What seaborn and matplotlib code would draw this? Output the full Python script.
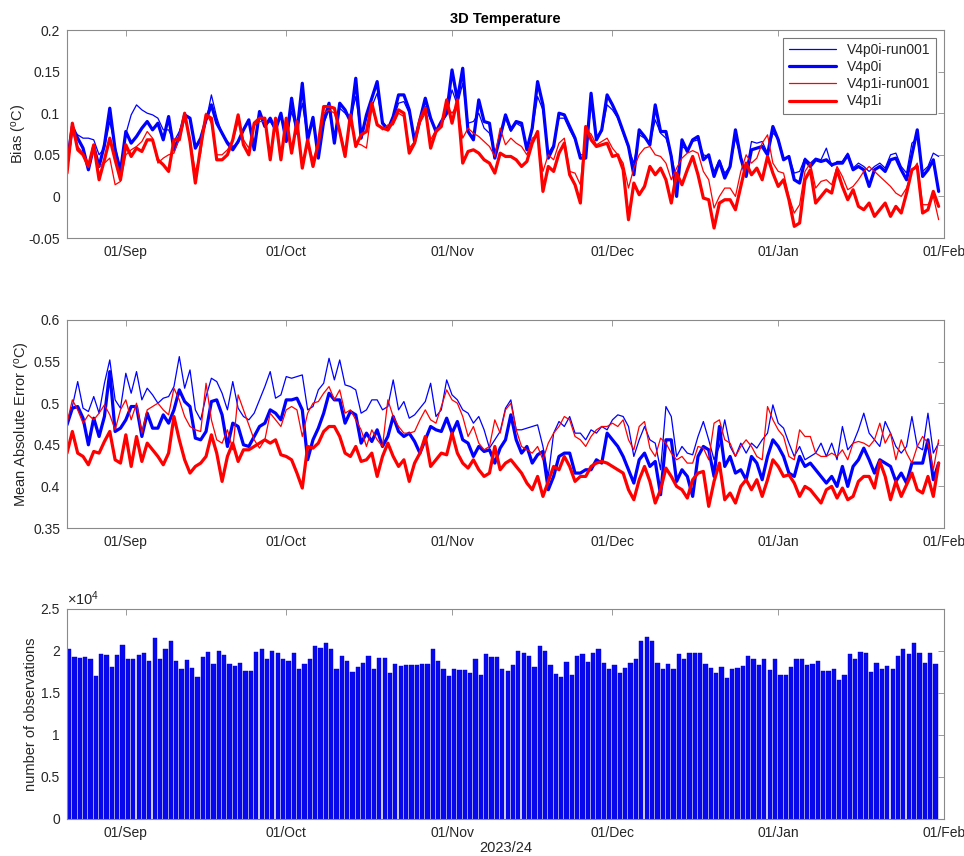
import numpy as np
import pandas as pd
import matplotlib
matplotlib.use("Agg")
import matplotlib.pyplot as plt
import matplotlib.dates as mdates
from matplotlib.lines import Line2D
from matplotlib.ticker import FuncFormatter
import seaborn as sns

# ---------------- data (daily, starting 21 Aug 2023) ----------------
start_date = "2023-08-21"
series_names = ["V4p0i-run001", "V4p0i", "V4p1i-run001", "V4p1i"]

bias_v4p0i_run001 = [
    0.045, 0.080, 0.074, 0.070, 0.070, 0.068, 0.050, 0.058, 0.090, 0.060, 0.032, 0.075, 0.098, 0.110,
    0.104, 0.100, 0.098, 0.094, 0.080, 0.080, 0.066, 0.078, 0.096, 0.094, 0.058, 0.066, 0.090, 0.122,
    0.095, 0.075, 0.066, 0.060, 0.064, 0.080, 0.090, 0.062, 0.098, 0.086, 0.090, 0.080, 0.098, 0.070,
    0.102, 0.078, 0.112, 0.070, 0.090, 0.052, 0.088, 0.104, 0.068, 0.106, 0.100, 0.092, 0.120, 0.074,
    0.094, 0.108, 0.124, 0.090, 0.082, 0.092, 0.112, 0.114, 0.100, 0.070, 0.090, 0.108, 0.092, 0.080,
    0.088, 0.098, 0.128, 0.110, 0.136, 0.088, 0.090, 0.100, 0.082, 0.076, 0.052, 0.070, 0.094,
    0.078, 0.088, 0.084, 0.060, 0.080, 0.120, 0.104, 0.052, 0.062, 0.094, 0.094, 0.080, 0.068, 0.050,
    0.050, 0.112, 0.070, 0.078, 0.110, 0.104, 0.094, 0.076, 0.058, 0.040, 0.074, 0.070, 0.064, 0.092,
    0.076, 0.070, 0.050, 0.020, 0.060, 0.056, 0.066, 0.068, 0.050, 0.048, 0.030, 0.044, 0.028,
    0.036, 0.070, 0.048, 0.030, 0.066, 0.064, 0.066, 0.052, 0.076, 0.070, 0.046, 0.048, 0.028, 0.030,
    0.046, 0.040, 0.046, 0.044, 0.058, 0.036, 0.042, 0.042, 0.052, 0.034, 0.040, 0.036, 0.030, 0.036,
    0.040, 0.034, 0.050, 0.052, 0.036, 0.028, 0.064, 0.070, 0.030, 0.036, 0.052, 0.048]
bias_v4p0i = [
    0.040, 0.084, 0.070, 0.058, 0.032, 0.060, 0.036, 0.062, 0.106, 0.056, 0.030, 0.078, 0.064, 0.072,
    0.082, 0.090, 0.080, 0.088, 0.068, 0.096, 0.056, 0.072, 0.098, 0.094, 0.058, 0.070, 0.092, 0.110,
    0.088, 0.076, 0.064, 0.056, 0.066, 0.080, 0.092, 0.056, 0.102, 0.084, 0.094, 0.080, 0.100, 0.066,
    0.118, 0.076, 0.136, 0.068, 0.095, 0.046, 0.090, 0.112, 0.064, 0.112, 0.104, 0.090, 0.142, 0.070,
    0.098, 0.118, 0.138, 0.088, 0.080, 0.096, 0.122, 0.122, 0.104, 0.066, 0.092, 0.118, 0.094, 0.078,
    0.090, 0.100, 0.152, 0.116, 0.154, 0.078, 0.068, 0.116, 0.090, 0.088, 0.046, 0.072, 0.098,
    0.080, 0.090, 0.088, 0.056, 0.082, 0.138, 0.110, 0.046, 0.060, 0.100, 0.098, 0.084, 0.070, 0.046,
    0.046, 0.124, 0.068, 0.080, 0.122, 0.110, 0.096, 0.078, 0.060, 0.026, 0.080, 0.072, 0.062, 0.110,
    0.078, 0.078, 0.048, 0.000, 0.068, 0.054, 0.068, 0.072, 0.044, 0.050, 0.024, 0.042, 0.022,
    0.036, 0.080, 0.046, 0.024, 0.056, 0.058, 0.060, 0.050, 0.084, 0.068, 0.044, 0.048, 0.020, 0.016,
    0.044, 0.036, 0.044, 0.042, 0.044, 0.038, 0.040, 0.040, 0.050, 0.032, 0.036, 0.032, 0.012, 0.032,
    0.036, 0.030, 0.044, 0.046, 0.032, 0.020, 0.050, 0.080, 0.024, 0.032, 0.044, 0.006]
bias_v4p1i_run001 = [
    0.030, 0.078, 0.060, 0.052, 0.040, 0.054, 0.036, 0.040, 0.046, 0.014, 0.018, 0.050, 0.056, 0.060,
    0.066, 0.078, 0.070, 0.040, 0.046, 0.050, 0.052, 0.070, 0.094, 0.070, 0.030, 0.052, 0.100, 0.088,
    0.050, 0.050, 0.056, 0.066, 0.090, 0.068, 0.058, 0.085, 0.090, 0.090, 0.050, 0.090, 0.050, 0.090,
    0.056, 0.086, 0.040, 0.066, 0.044, 0.062, 0.100, 0.104, 0.100, 0.080, 0.054, 0.092, 0.064, 0.062,
    0.058, 0.106, 0.088, 0.080, 0.086, 0.086, 0.100, 0.096, 0.058, 0.066, 0.088, 0.100, 0.068, 0.080,
    0.084, 0.108, 0.100, 0.110, 0.070, 0.082, 0.076, 0.072, 0.066, 0.060, 0.048, 0.082, 0.062,
    0.070, 0.064, 0.060, 0.050, 0.070, 0.074, 0.030, 0.050, 0.044, 0.064, 0.070, 0.030, 0.028, 0.014,
    0.080, 0.075, 0.062, 0.066, 0.070, 0.058, 0.050, 0.040, 0.010, 0.034, 0.050, 0.058, 0.060, 0.050,
    0.048, 0.040, 0.020, 0.034, 0.046, 0.052, 0.055, 0.052, 0.030, 0.020, -0.014, 0.000, 0.010,
    0.010, 0.000, 0.030, 0.050, 0.040, 0.046, 0.064, 0.074, 0.040, 0.030, 0.028, 0.000, -0.020, -0.010,
    0.030, 0.040, 0.010, 0.018, 0.020, 0.014, 0.036, 0.024, 0.008, 0.012, 0.020, 0.030, 0.036, 0.030,
    0.024, 0.018, 0.012, 0.004, 0.000, 0.010, 0.030, 0.040, -0.010, -0.010, 0.000, -0.028]
bias_v4p1i = [
    0.028, 0.088, 0.056, 0.050, 0.036, 0.062, 0.020, 0.044, 0.070, 0.044, 0.020, 0.062, 0.048, 0.058,
    0.054, 0.068, 0.068, 0.044, 0.038, 0.030, 0.068, 0.068, 0.100, 0.066, 0.016, 0.060, 0.098, 0.094,
    0.044, 0.044, 0.050, 0.068, 0.098, 0.062, 0.050, 0.088, 0.094, 0.094, 0.044, 0.094, 0.044, 0.094,
    0.052, 0.090, 0.034, 0.068, 0.036, 0.064, 0.108, 0.108, 0.106, 0.078, 0.048, 0.098, 0.060, 0.074,
    0.078, 0.112, 0.086, 0.082, 0.080, 0.090, 0.104, 0.100, 0.052, 0.064, 0.092, 0.106, 0.058, 0.078,
    0.084, 0.116, 0.088, 0.116, 0.040, 0.054, 0.056, 0.052, 0.044, 0.040, 0.028, 0.052, 0.048,
    0.048, 0.044, 0.036, 0.042, 0.064, 0.078, 0.006, 0.036, 0.030, 0.052, 0.064, 0.026, 0.014, -0.008,
    0.084, 0.068, 0.060, 0.062, 0.064, 0.048, 0.050, 0.032, -0.028, 0.016, 0.002, 0.012, 0.036, 0.026,
    0.034, 0.020, -0.008, 0.028, 0.014, 0.032, 0.048, 0.026, -0.002, -0.004, -0.038, -0.008, -0.004,
    -0.004, -0.016, 0.012, 0.040, 0.026, 0.034, 0.020, 0.048, 0.028, 0.012, 0.020, -0.004, -0.036, -0.032,
    0.020, 0.032, -0.008, 0.000, 0.008, 0.004, 0.032, 0.012, -0.004, 0.008, -0.012, -0.016, -0.008, -0.024,
    -0.016, -0.008, -0.024, -0.012, -0.020, 0.004, 0.032, 0.036, -0.020, -0.016, 0.006, -0.012]

mae_v4p0i_run001 = [
    0.476, 0.496, 0.526, 0.494, 0.490, 0.508, 0.488, 0.524, 0.552, 0.504, 0.494, 0.536, 0.512, 0.538,
    0.504, 0.518, 0.510, 0.500, 0.506, 0.508, 0.520, 0.556, 0.518, 0.540, 0.492, 0.480, 0.508, 0.530,
    0.526, 0.512, 0.492, 0.526, 0.494, 0.484, 0.480, 0.488, 0.504, 0.520, 0.538, 0.506, 0.510, 0.532,
    0.530, 0.532, 0.534, 0.492, 0.496, 0.516, 0.524, 0.554, 0.528, 0.552, 0.522, 0.520, 0.516, 0.488,
    0.492, 0.504, 0.504, 0.492, 0.496, 0.528, 0.492, 0.502, 0.482, 0.486, 0.494, 0.502, 0.524, 0.484,
    0.492, 0.528, 0.510, 0.504, 0.492, 0.488, 0.476, 0.484, 0.468, 0.446, 0.456, 0.466, 0.494, 0.504,
    0.468, 0.468, 0.470, 0.472, 0.474, 0.448, 0.412, 0.464, 0.478, 0.472, 0.484, 0.464, 0.464, 0.456,
    0.468, 0.464, 0.472, 0.468, 0.480, 0.486, 0.484, 0.472, 0.436, 0.456,
    0.472, 0.456, 0.452, 0.420, 0.496, 0.484, 0.436, 0.448, 0.440, 0.438, 0.460, 0.478, 0.456, 0.432,
    0.448, 0.480, 0.448, 0.436, 0.452, 0.440, 0.452, 0.446, 0.456, 0.464, 0.498, 0.476, 0.470, 0.452,
    0.436, 0.448, 0.432, 0.436, 0.440, 0.452, 0.436, 0.452, 0.432, 0.472, 0.444, 0.452, 0.468, 0.488,
    0.464, 0.456, 0.448, 0.478, 0.464, 0.448, 0.440, 0.448, 0.484, 0.448, 0.444, 0.488, 0.440, 0.452]
mae_v4p0i = [
    0.474, 0.494, 0.496, 0.482, 0.450, 0.482, 0.460, 0.484, 0.538, 0.466, 0.470, 0.480, 0.496, 0.496,
    0.460, 0.488, 0.470, 0.470, 0.486, 0.476, 0.492, 0.516, 0.502, 0.496, 0.458, 0.456, 0.466, 0.502,
    0.504, 0.486, 0.448, 0.476, 0.472, 0.450, 0.448, 0.460, 0.472, 0.476, 0.492, 0.488, 0.480, 0.504,
    0.504, 0.506, 0.492, 0.432, 0.456, 0.470, 0.488, 0.512, 0.504, 0.504, 0.476, 0.490, 0.486, 0.452,
    0.464, 0.454, 0.468, 0.448, 0.460, 0.484, 0.466, 0.460, 0.464, 0.454, 0.440, 0.456, 0.472, 0.468,
    0.466, 0.482, 0.464, 0.478, 0.456, 0.452, 0.436, 0.448, 0.442, 0.444, 0.428, 0.446, 0.456, 0.486,
    0.456, 0.440, 0.448, 0.428, 0.438, 0.442, 0.396, 0.412, 0.436, 0.440, 0.440, 0.416, 0.416, 0.420,
    0.420, 0.432, 0.428, 0.464, 0.456, 0.448, 0.436, 0.420, 0.404, 0.432,
    0.440, 0.424, 0.430, 0.390, 0.456, 0.456, 0.406, 0.420, 0.412, 0.388, 0.436, 0.448, 0.444, 0.412,
    0.472, 0.424, 0.436, 0.416, 0.420, 0.408, 0.436, 0.428, 0.408, 0.436, 0.456, 0.448, 0.436, 0.416,
    0.412, 0.436, 0.424, 0.428, 0.420, 0.412, 0.404, 0.412, 0.400, 0.424, 0.400, 0.424, 0.432, 0.446,
    0.432, 0.416, 0.432, 0.428, 0.424, 0.406, 0.416, 0.404, 0.428, 0.428, 0.428, 0.456, 0.408, 0.428]
mae_v4p1i_run001 = [
    0.476, 0.504, 0.492, 0.476, 0.486, 0.480, 0.488, 0.498, 0.486, 0.468, 0.492, 0.504, 0.480, 0.500,
    0.464, 0.492, 0.496, 0.500, 0.492, 0.486, 0.518, 0.504, 0.484, 0.472, 0.468, 0.466, 0.524, 0.480,
    0.456, 0.452, 0.468, 0.444, 0.510, 0.492, 0.474, 0.456, 0.446, 0.456, 0.488, 0.480, 0.472, 0.492,
    0.496, 0.492, 0.460, 0.488, 0.500, 0.502, 0.512, 0.520, 0.504, 0.516, 0.488, 0.492, 0.480, 0.468,
    0.448, 0.468, 0.456, 0.448, 0.504, 0.484, 0.472, 0.464, 0.464, 0.466, 0.480, 0.492, 0.480, 0.476,
    0.496, 0.516, 0.504, 0.500, 0.484, 0.460, 0.472, 0.452, 0.444, 0.448, 0.480, 0.464, 0.492, 0.500,
    0.468, 0.448, 0.444, 0.440, 0.448, 0.432, 0.452, 0.464, 0.472, 0.484, 0.480, 0.460, 0.456, 0.448,
    0.460, 0.468, 0.472, 0.472, 0.476, 0.472, 0.480, 0.456, 0.444, 0.472,
    0.478, 0.446, 0.436, 0.458, 0.452, 0.440, 0.432, 0.436, 0.428, 0.428, 0.448, 0.446, 0.432, 0.476,
    0.480, 0.456, 0.452, 0.436, 0.448, 0.456, 0.448, 0.436, 0.432, 0.496, 0.480, 0.468, 0.460, 0.436,
    0.432, 0.468, 0.460, 0.460, 0.440, 0.436, 0.436, 0.440, 0.436, 0.444, 0.432, 0.452, 0.454, 0.452,
    0.448, 0.456, 0.476, 0.452, 0.464, 0.432, 0.456, 0.440, 0.428, 0.448, 0.460, 0.452, 0.420, 0.456]
mae_v4p1i = [
    0.440, 0.466, 0.440, 0.436, 0.426, 0.442, 0.440, 0.454, 0.466, 0.432, 0.428, 0.462, 0.424, 0.460,
    0.430, 0.452, 0.444, 0.436, 0.426, 0.440, 0.484, 0.456, 0.432, 0.416, 0.424, 0.428, 0.436, 0.462,
    0.440, 0.406, 0.436, 0.452, 0.430, 0.444, 0.444, 0.448, 0.452, 0.456, 0.452, 0.456, 0.438, 0.436,
    0.432, 0.416, 0.398, 0.448, 0.446, 0.452, 0.466, 0.472, 0.472, 0.460, 0.440, 0.436, 0.448, 0.430,
    0.432, 0.440, 0.412, 0.436, 0.452, 0.436, 0.424, 0.432, 0.406, 0.428, 0.440, 0.460, 0.424, 0.432,
    0.440, 0.438, 0.464, 0.440, 0.428, 0.422, 0.432, 0.420, 0.412, 0.416, 0.448, 0.420, 0.428, 0.432,
    0.424, 0.416, 0.404, 0.396, 0.412, 0.388, 0.406, 0.424, 0.420, 0.436, 0.424, 0.406, 0.412, 0.412,
    0.424, 0.428, 0.430, 0.428, 0.424, 0.420, 0.416, 0.396, 0.384, 0.408,
    0.424, 0.406, 0.380, 0.396, 0.422, 0.412, 0.400, 0.396, 0.386, 0.408, 0.416, 0.418, 0.376, 0.406,
    0.428, 0.384, 0.392, 0.380, 0.400, 0.408, 0.396, 0.408, 0.388, 0.408, 0.432, 0.424, 0.412, 0.414,
    0.404, 0.388, 0.400, 0.396, 0.388, 0.380, 0.396, 0.400, 0.386, 0.398, 0.384, 0.388, 0.406, 0.412,
    0.412, 0.398, 0.430, 0.412, 0.384, 0.406, 0.388, 0.402, 0.416, 0.396, 0.392, 0.412, 0.388, 0.428]

n_observations = [
    20200, 19300, 19200, 19300, 19100, 17000, 19600, 19500, 18100, 19500, 20700, 19000, 19000, 19500,
    19800, 18800, 21500, 19000, 20200, 21200, 18800, 17800, 18900, 18000, 16900, 19300, 19900, 18500,
    20000, 19500, 18500, 18200, 18600, 17600, 17600, 19900, 20200, 19100, 20000, 19800, 19000, 18800,
    19800, 17800, 18400, 19000, 20600, 20400, 21000, 20200, 17800, 19400, 18800, 17500, 18100, 18600,
    19400, 17800, 19200, 19200, 17400, 18400, 18200, 18300, 18300, 18300, 18500, 18500, 20200, 18800,
    17900, 17000, 17800, 17700, 17700, 17400, 19000, 17200,
    19700, 19300, 19300, 17800, 17600, 18300, 20000, 19800, 19400, 18100, 20600, 20000, 18300, 17300,
    16900, 18700, 17100, 19400, 19700, 18700, 19800, 20200, 18600, 17900, 18300, 17400, 18000, 18600,
    19000, 21200, 21700, 21200, 18600, 17800, 18400, 17900, 19700, 19000, 19800, 19800, 19800, 18400,
    18000, 17400, 18100, 16800, 17900, 18000, 18200, 19400, 19000, 18300, 19000, 17700, 19000, 17100,
    17200, 18100, 19100, 19100, 18300, 18400, 18800, 17600, 17600, 17800, 16600, 17200, 19700, 19100,
    19900, 19800, 17500, 18600, 17900, 18200, 17800, 19400, 20200, 19600, 20900, 19800, 18600, 19800,
    18500]

title_text = "3D Temperature"
xlabel_text = "2023/24"
bias_ticks = [-0.05, 0, 0.05, 0.1, 0.15, 0.2]
mae_ticks = [0.35, 0.4, 0.45, 0.5, 0.55, 0.6]
obs_ticks = [0, 5000, 10000, 15000, 20000, 25000]

# ---------------- styling ----------------
sns.set_style("white")
plt.rcParams["font.family"] = ["Liberation Sans", "DejaVu Sans"]
plt.rcParams["mathtext.default"] = "regular"

text_col = "#262626"
spine_col = "#8a8a8a"
styles = {
    "V4p0i-run001": dict(color="#0000ff", lw=0.9),
    "V4p0i": dict(color="#0000ff", lw=2.3),
    "V4p1i-run001": dict(color="#ff0000", lw=0.9),
    "V4p1i": dict(color="#ff0000", lw=2.3),
}

dates = pd.date_range(start_date, periods=len(bias_v4p0i), freq="D")
bar_dates = pd.date_range(start_date, periods=len(n_observations), freq="D")

fig = plt.figure(figsize=(9.64, 8.56), dpi=100)
left, width = 67 / 964, 877 / 964
ax1 = fig.add_axes([left, 1 - 238 / 856, width, 208 / 856])
ax2 = fig.add_axes([left, 1 - 528 / 856, width, 208 / 856])
ax3 = fig.add_axes([left, 1 - 819 / 856, width, 210 / 856])


def draw_lines(ax, arrays):
    for name, vals in zip(series_names, arrays):
        df = pd.DataFrame({"date": dates, "value": vals})
        st = styles[name]
        sns.lineplot(data=df, x="date", y="value", ax=ax, color=st["color"],
                     linewidth=st["lw"], estimator=None, legend=False)


draw_lines(ax1, [bias_v4p0i_run001, bias_v4p0i, bias_v4p1i_run001, bias_v4p1i])
draw_lines(ax2, [mae_v4p0i_run001, mae_v4p0i, mae_v4p1i_run001, mae_v4p1i])
ax3.bar(mdates.date2num(bar_dates), n_observations, width=0.8, align="edge",
        color="#0808f0", edgecolor="#0000c8", linewidth=0.3)

xmin = mdates.date2num(pd.Timestamp("2023-08-21"))
xmax = mdates.date2num(pd.Timestamp("2024-02-01"))
month_ticks = pd.date_range("2023-09-01", "2024-02-01", freq="MS")

for ax in (ax1, ax2, ax3):
    ax.set_xlim(xmin, xmax)
    ax.set_xticks(mdates.date2num(month_ticks))
    ax.xaxis.set_major_formatter(mdates.DateFormatter("%d/%b"))
    ax.tick_params(direction="in", top=True, right=True, length=4, width=0.6,
                   color=spine_col, labelsize=10, labelcolor=text_col, pad=5)
    for s in ax.spines.values():
        s.set_color(spine_col)
        s.set_linewidth(0.8)
    ax.set_xlabel("")
    ax.set_facecolor("white")

ax1.set_ylim(-0.05, 0.2)
ax1.set_yticks(bias_ticks)
ax1.yaxis.set_major_formatter(FuncFormatter(lambda v, p: f"{v:g}"))
ax1.set_ylabel("Bias ($^{o}$C)", fontsize=10.5, color=text_col)
ax1.yaxis.set_label_coords(-0.043, 0.5)
ax1.set_title(title_text, fontsize=10.5, fontweight="bold", color="black", pad=5)

ax2.set_ylim(0.35, 0.6)
ax2.set_yticks(mae_ticks)
ax2.yaxis.set_major_formatter(FuncFormatter(lambda v, p: f"{v:g}"))
ax2.set_ylabel("Mean Absolute Error ($^{o}$C)", fontsize=10.5, color=text_col)
ax2.yaxis.set_label_coords(-0.040, 0.5)

ax3.set_ylim(0, 25000)
ax3.set_yticks(obs_ticks)
ax3.yaxis.set_major_formatter(FuncFormatter(lambda v, p: f"{v / 1e4:g}"))
ax3.set_ylabel("number of observations", fontsize=10.5, color=text_col)
ax3.yaxis.set_label_coords(-0.033, 0.5)
ax3.set_xlabel(xlabel_text, fontsize=10.5, color=text_col, labelpad=1)
ax3.text(0.0, 1.006, r"$\times10^{4}$", transform=ax3.transAxes, ha="left",
         va="bottom", fontsize=10.5, color=text_col)

handles = [Line2D([0], [0], color=styles[n]["color"], lw=styles[n]["lw"]) for n in series_names]
leg = ax1.legend(handles, series_names, loc="upper right", fontsize=10, frameon=True,
                 fancybox=False, handlelength=3.4, labelspacing=0.22, borderpad=0.4,
                 handletextpad=0.8, borderaxespad=0.55)
leg.get_frame().set_edgecolor("#555555")
leg.get_frame().set_linewidth(0.8)
for t in leg.get_texts():
    t.set_color(text_col)

fig.savefig("out.png", dpi=100, facecolor="white")
